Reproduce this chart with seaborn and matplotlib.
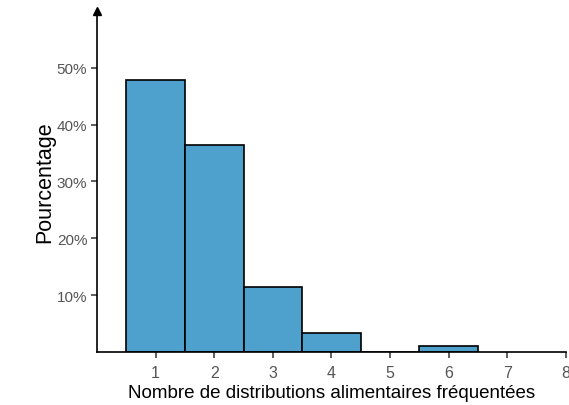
import matplotlib
matplotlib.use("Agg")
import matplotlib.pyplot as plt
import seaborn as sns
import numpy as np
import pandas as pd
from matplotlib.ticker import FuncFormatter

categories = [1, 2, 3, 4, 5, 6]
percentages = [47.9, 36.5, 11.5, 3.3, 0.0, 1.0]
x_ticks = [1, 2, 3, 4, 5, 6, 7, 8]
y_ticks = [10, 20, 30, 40, 50]

sns.set_theme(style="ticks")
plt.rcParams['font.family'] = ['Liberation Sans', 'DejaVu Sans']

df = pd.DataFrame({"n": categories, "pct": percentages})
df = df[df["pct"] > 0]

fig = plt.figure(figsize=(5.69, 4.06), dpi=100)
ax = fig.add_axes([0.1705, 0.1305, 0.8242, 0.84])

sns.histplot(data=df, x="n", weights="pct", discrete=True, stat="count",
             color="#4EA1CD", alpha=1, edgecolor="black", linewidth=1.2, ax=ax)

ax.set_xlim(0, 8)
ax.set_ylim(0, 60)
ax.set_xticks(x_ticks)
ax.set_yticks(y_ticks)
ax.yaxis.set_major_formatter(FuncFormatter(lambda v, p: f"{int(v)}%"))
ax.tick_params(axis="both", labelsize=11, labelcolor="#555555", color="#333333",
               length=4, width=1.1, direction="out", pad=3)
ax.tick_params(axis="x", labelsize=11.5, pad=5)
ax.set_xlabel("Nombre de distributions alimentaires fréquentées", fontsize=13.5, color="black", labelpad=3)
ax.set_ylabel("Pourcentage", fontsize=15.5, color="black", labelpad=1)
sns.despine(ax=ax)
for s in ["left", "bottom"]:
    ax.spines[s].set_linewidth(1.2)
    ax.spines[s].set_color("black")
ax.plot(0, 1, marker="^", color="black", markersize=6, transform=ax.transAxes, clip_on=False)

fig.savefig("out.png", dpi=100)
